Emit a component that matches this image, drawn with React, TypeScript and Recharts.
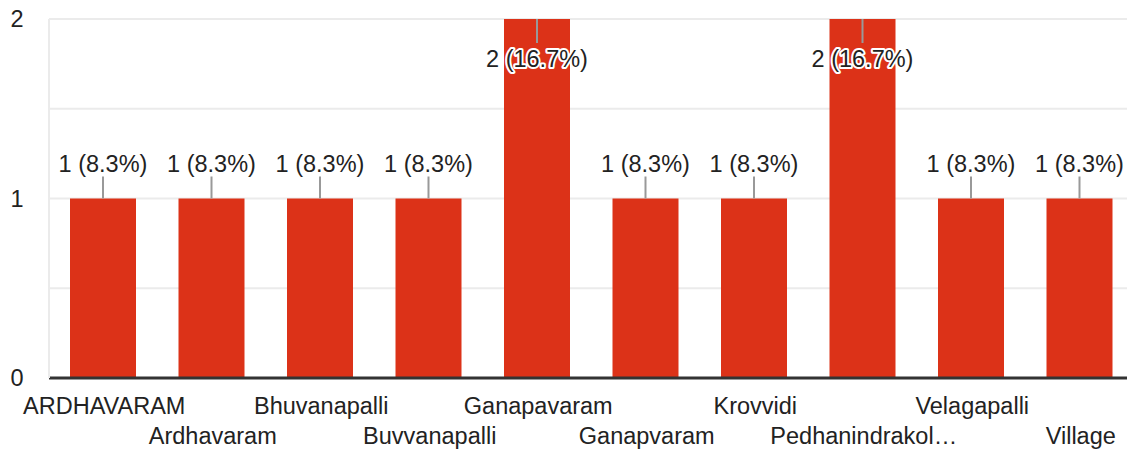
import { Bar, BarChart, CartesianGrid, LabelList, XAxis, YAxis } from 'recharts'

const villages = [
  'ARDHAVARAM',
  'Ardhavaram',
  'Bhuvanapalli',
  'Buvvanapalli',
  'Ganapavaram',
  'Ganapvaram',
  'Krovvidi',
  'Pedhanindrakol…',
  'Velagapalli',
  'Village',
]
const counts = [1, 1, 1, 1, 2, 1, 1, 2, 1, 1]
const yTicks = [0, 0.5, 1, 1.5, 2]

const total = counts.reduce((a, b) => a + b, 0)
const data = villages.map((name, i) => ({ name, count: counts[i] }))

const FONT = 'Arial, "Liberation Sans", sans-serif'
const INK = '#222'
const AXIS_Y = 378

function YTick({ y, payload }: any) {
  if (payload.value % 1 !== 0) return null
  return (
    <text x={17} y={y + 8} textAnchor="middle" fontSize={23.5} fontFamily={FONT} fill={INK}>
      {payload.value}
    </text>
  )
}

function XTick({ x, payload, index }: any) {
  const base = index % 2 === 0 ? AXIS_Y + 36 : AXIS_Y + 66
  return (
    <text x={x + 1} y={base} textAnchor="middle" fontSize={23.5} fontFamily={FONT} fill={INK}>
      {payload.value}
    </text>
  )
}

function BarLabel({ x, y, width, value }: any) {
  const cx = x + width / 2
  const text = `${value} (${((value / total) * 100).toFixed(1)}%)`
  if (y < 40) {
    return (
      <g>
        <line x1={cx} x2={cx} y1={y} y2={y + 24} stroke="#999" strokeWidth={2} />
        <text
          x={cx}
          y={y + 48}
          textAnchor="middle"
          fontSize={23.5}
          fontFamily={FONT}
          fill={INK}
          stroke="#fff"
          strokeWidth={4}
          strokeLinejoin="round"
          paintOrder="stroke"
        >
          {text}
        </text>
      </g>
    )
  }
  return (
    <g>
      <line x1={cx} x2={cx} y1={y - 22} y2={y} stroke="#999" strokeWidth={2} />
      <text x={cx} y={y - 27} textAnchor="middle" fontSize={23.5} fontFamily={FONT} fill={INK}>
        {text}
      </text>
    </g>
  )
}

export default function App() {
  return (
    <div style={{ position: 'absolute', left: 0, top: 0, width: 1127, height: 451, overflow: 'hidden', background: '#fff' }}>
      <BarChart width={1141} height={451} data={data} margin={{ top: 19, right: 7, left: 0, bottom: 0 }}>
        <CartesianGrid stroke="#ebebeb" strokeWidth={2} vertical={false} />
        <XAxis
          dataKey="name"
          interval={0}
          height={73}
          tick={<XTick />}
          tickLine={false}
          axisLine={{ stroke: '#333', strokeWidth: 3 }}
        />
        <YAxis
          domain={[0, 2]}
          ticks={yTicks}
          width={49}
          tick={<YTick />}
          tickLine={false}
          axisLine={{ stroke: '#ebebeb', strokeWidth: 2 }}
        />
        <Bar dataKey="count" fill="#dc3218" barSize={66} isAnimationActive={false}>
          <LabelList dataKey="count" content={<BarLabel />} />
        </Bar>
      </BarChart>
    </div>
  )
}
